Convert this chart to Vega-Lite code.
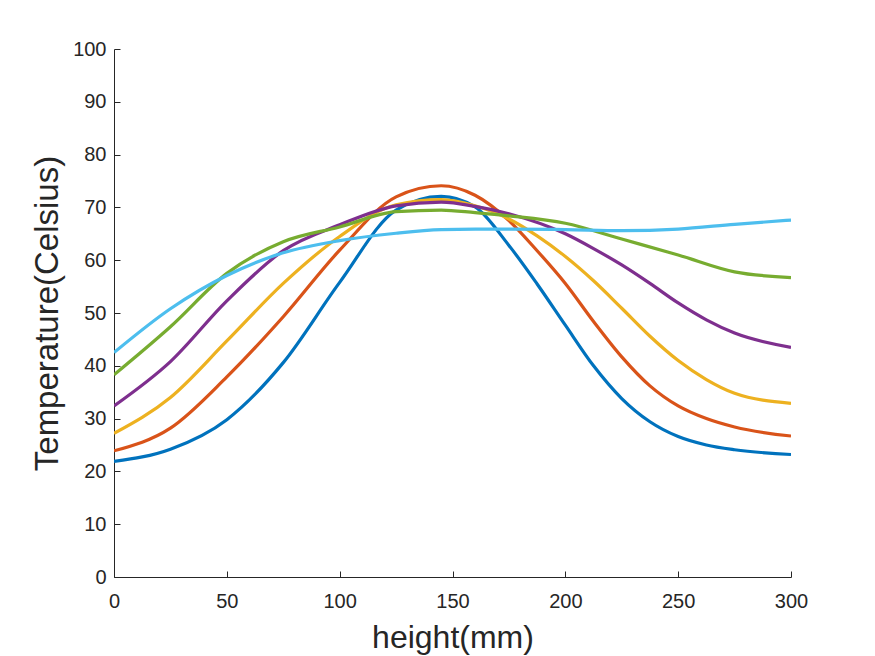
{
  "$schema": "https://vega.github.io/schema/vega-lite/v6.json",
  "width": 677,
  "height": 528,
  "autosize": {"type": "none"},
  "padding": {"left": 114, "top": 49, "right": 84, "bottom": 79},
  "background": "white",
  "config": {
    "view": {"stroke": null},
    "axis": {
      "domainColor": "#262626",
      "domainWidth": 1,
      "tickColor": "#262626",
      "tickWidth": 1,
      "tickSize": -6,
      "grid": false,
      "labelFont": "Liberation Sans",
      "labelFontSize": 20,
      "labelColor": "#262626",
      "titleFont": "Liberation Sans",
      "titleFontWeight": "normal",
      "titleColor": "#262626"
    }
  },
  "data": {
    "values": [
      {"series": "s1", "height": 0, "temp": 21.9},
      {"series": "s1", "height": 25, "temp": 24.2},
      {"series": "s1", "height": 50, "temp": 29.8},
      {"series": "s1", "height": 75, "temp": 40.6},
      {"series": "s1", "height": 100, "temp": 55.8},
      {"series": "s1", "height": 125, "temp": 69.5},
      {"series": "s1", "height": 145, "temp": 72.1},
      {"series": "s1", "height": 160, "temp": 70.1},
      {"series": "s1", "height": 175, "temp": 62.8},
      {"series": "s1", "height": 187.5, "temp": 55.5},
      {"series": "s1", "height": 200, "temp": 47.7},
      {"series": "s1", "height": 212.5, "temp": 40.0},
      {"series": "s1", "height": 225, "temp": 33.8},
      {"series": "s1", "height": 237.5, "temp": 29.4},
      {"series": "s1", "height": 250, "temp": 26.6},
      {"series": "s1", "height": 262.5, "temp": 25.0},
      {"series": "s1", "height": 275, "temp": 24.1},
      {"series": "s1", "height": 300, "temp": 23.2},
      {"series": "s2", "height": 0, "temp": 23.9},
      {"series": "s2", "height": 25, "temp": 28.2},
      {"series": "s2", "height": 50, "temp": 37.9},
      {"series": "s2", "height": 75, "temp": 49.3},
      {"series": "s2", "height": 100, "temp": 61.9},
      {"series": "s2", "height": 125, "temp": 72.0},
      {"series": "s2", "height": 145, "temp": 74.1},
      {"series": "s2", "height": 160, "temp": 72.3},
      {"series": "s2", "height": 175, "temp": 67.5},
      {"series": "s2", "height": 187.5, "temp": 61.8},
      {"series": "s2", "height": 200, "temp": 55.6},
      {"series": "s2", "height": 212.5, "temp": 48.4},
      {"series": "s2", "height": 225, "temp": 41.7},
      {"series": "s2", "height": 237.5, "temp": 36.2},
      {"series": "s2", "height": 250, "temp": 32.4},
      {"series": "s2", "height": 262.5, "temp": 30.0},
      {"series": "s2", "height": 275, "temp": 28.4},
      {"series": "s2", "height": 300, "temp": 26.7},
      {"series": "s3", "height": 0, "temp": 27.2},
      {"series": "s3", "height": 25, "temp": 34.0},
      {"series": "s3", "height": 50, "temp": 44.7},
      {"series": "s3", "height": 75, "temp": 55.6},
      {"series": "s3", "height": 100, "temp": 64.5},
      {"series": "s3", "height": 125, "temp": 70.5},
      {"series": "s3", "height": 145, "temp": 71.5},
      {"series": "s3", "height": 160, "temp": 70.3},
      {"series": "s3", "height": 175, "temp": 67.8},
      {"series": "s3", "height": 187.5, "temp": 64.6},
      {"series": "s3", "height": 200, "temp": 60.7},
      {"series": "s3", "height": 212.5, "temp": 56.1},
      {"series": "s3", "height": 225, "temp": 50.9},
      {"series": "s3", "height": 237.5, "temp": 45.6},
      {"series": "s3", "height": 250, "temp": 41.0},
      {"series": "s3", "height": 262.5, "temp": 37.4},
      {"series": "s3", "height": 275, "temp": 34.8},
      {"series": "s3", "height": 300, "temp": 32.9},
      {"series": "s4", "height": 0, "temp": 32.4},
      {"series": "s4", "height": 25, "temp": 40.8},
      {"series": "s4", "height": 50, "temp": 52.3},
      {"series": "s4", "height": 75, "temp": 61.8},
      {"series": "s4", "height": 100, "temp": 66.7},
      {"series": "s4", "height": 125, "temp": 70.3},
      {"series": "s4", "height": 145, "temp": 71.0},
      {"series": "s4", "height": 160, "temp": 70.2},
      {"series": "s4", "height": 175, "temp": 68.8},
      {"series": "s4", "height": 200, "temp": 65.0},
      {"series": "s4", "height": 212.5, "temp": 62.2},
      {"series": "s4", "height": 225, "temp": 59.1},
      {"series": "s4", "height": 237.5, "temp": 55.6},
      {"series": "s4", "height": 250, "temp": 51.9},
      {"series": "s4", "height": 262.5, "temp": 48.7},
      {"series": "s4", "height": 275, "temp": 46.2},
      {"series": "s4", "height": 300, "temp": 43.5},
      {"series": "s5", "height": 0, "temp": 38.3},
      {"series": "s5", "height": 25, "temp": 47.4},
      {"series": "s5", "height": 50, "temp": 57.5},
      {"series": "s5", "height": 75, "temp": 63.5},
      {"series": "s5", "height": 100, "temp": 66.3},
      {"series": "s5", "height": 125, "temp": 69.2},
      {"series": "s5", "height": 145, "temp": 69.5},
      {"series": "s5", "height": 160, "temp": 69.0},
      {"series": "s5", "height": 175, "temp": 68.4},
      {"series": "s5", "height": 200, "temp": 67.0},
      {"series": "s5", "height": 225, "temp": 64.0},
      {"series": "s5", "height": 250, "temp": 61.0},
      {"series": "s5", "height": 275, "temp": 57.8},
      {"series": "s5", "height": 300, "temp": 56.7},
      {"series": "s6", "height": 0, "temp": 42.5},
      {"series": "s6", "height": 25, "temp": 50.8},
      {"series": "s6", "height": 50, "temp": 57.1},
      {"series": "s6", "height": 75, "temp": 61.4},
      {"series": "s6", "height": 100, "temp": 63.7},
      {"series": "s6", "height": 125, "temp": 65.1},
      {"series": "s6", "height": 145, "temp": 65.8},
      {"series": "s6", "height": 160, "temp": 65.9},
      {"series": "s6", "height": 175, "temp": 65.9},
      {"series": "s6", "height": 200, "temp": 65.8},
      {"series": "s6", "height": 225, "temp": 65.6},
      {"series": "s6", "height": 250, "temp": 65.9},
      {"series": "s6", "height": 275, "temp": 66.8},
      {"series": "s6", "height": 300, "temp": 67.6}
    ]
  },
  "mark": {"type": "line", "strokeWidth": 3.2, "interpolate": "monotone", "clip": true},
  "encoding": {
    "x": {
      "field": "height",
      "type": "quantitative",
      "scale": {"domain": [0, 300], "nice": false, "zero": false},
      "axis": {
        "title": "height(mm)",
        "titleFontSize": 32,
        "titlePadding": 11,
        "labelPadding": 20,
        "values": [0, 50, 100, 150, 200, 250, 300],
        "labelFlush": false
      }
    },
    "y": {
      "field": "temp",
      "type": "quantitative",
      "scale": {"domain": [0, 100], "nice": false},
      "axis": {
        "title": "Temperature(Celsius)",
        "titleFontSize": 33,
        "titlePadding": 8,
        "labelPadding": 14,
        "values": [0, 10, 20, 30, 40, 50, 60, 70, 80, 90, 100],
        "labelFlush": false
      }
    },
    "color": {
      "field": "series",
      "type": "nominal",
      "scale": {
        "domain": ["s1", "s2", "s3", "s4", "s5", "s6"],
        "range": ["#0072BD", "#D95319", "#EDB120", "#7E2F8E", "#77AC30", "#4DBEEE"]
      },
      "legend": null
    }
  }
}
